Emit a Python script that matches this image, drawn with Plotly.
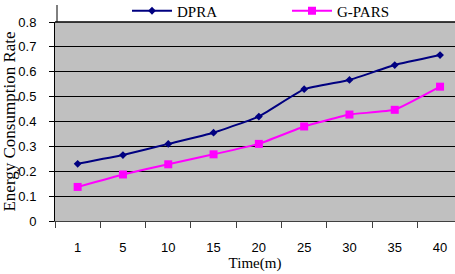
import plotly.graph_objects as go

times = ["1", "5", "10", "15", "20", "25", "30", "35", "40"]
dpra = [0.23, 0.265, 0.31, 0.355, 0.42, 0.53, 0.567, 0.627, 0.667]
gpars = [0.137, 0.187, 0.228, 0.268, 0.31, 0.38, 0.428, 0.447, 0.54]
y_ticks = [0, 0.1, 0.2, 0.3, 0.4, 0.5, 0.6, 0.7, 0.8]
y_labels = ["0", "0.1", "0.2", "0.3", "0.4", "0.5", "0.6", "0.7", "0.8"]

serif = "Liberation Serif, Times New Roman, serif"
sans = "Liberation Sans, Arial, sans-serif"

fig = go.Figure()
fig.add_trace(go.Scatter(
    x=times, y=dpra, name="DPRA", mode="lines+markers", legend="legend",
    line=dict(color="#000080", width=2, shape="spline", smoothing=0.3),
    marker=dict(symbol="diamond", size=6, color="#000080"),
))
fig.add_trace(go.Scatter(
    x=times, y=gpars, name="G-PARS", mode="lines+markers", legend="legend2",
    line=dict(color="#FF00FF", width=2, shape="spline", smoothing=0.3),
    marker=dict(symbol="square", size=8, color="#FF00FF"),
))

leg_common = dict(orientation="h", xref="container", yref="container",
                  y=1.0 - 11 / 274, xanchor="left", yanchor="middle",
                  font=dict(family=serif, size=15, color="black"),
                  bgcolor="rgba(0,0,0,0)", itemwidth=40)

fig.update_layout(
    width=455, height=274,
    margin=dict(l=55, r=0, t=22, b=53, autoexpand=False),
    paper_bgcolor="white",
    plot_bgcolor="#C0C0C0",
    showlegend=True,
    legend=dict(x=127 / 455, **leg_common),
    legend2=dict(x=287 / 455, **leg_common),
    xaxis=dict(
        type="category", range=[-0.5, 8.33],
        tickson="boundaries", ticks="outside", ticklen=6, tickcolor="#404040",
        showgrid=False, showline=True, linecolor="#404040", linewidth=1,
        tickfont=dict(family=sans, size=13, color="black"),
        ticklabelstandoff=14,
        title=dict(text="Time(m)", font=dict(family=serif, size=15, color="black"), standoff=0),
        zeroline=False,
    ),
    yaxis=dict(
        range=[0, 0.8], tickvals=y_ticks, ticktext=y_labels,
        ticks="outside", ticklen=5, tickcolor="black",
        showgrid=True, gridcolor="black", gridwidth=1,
        showline=True, linecolor="black", linewidth=1,
        tickfont=dict(family=sans, size=13, color="black"),
        ticklabelstandoff=10,
        title=dict(text="Energy Consumption Rate", font=dict(family=serif, size=17, color="black"), standoff=4),
        zeroline=False,
    ),
)

fig.add_shape(type="line", xref="paper", yref="paper",
              x0=0, x1=1, y0=1.0, y1=1.0,
              line=dict(color="black", width=1.5))
fig.add_shape(type="line", xref="paper", yref="paper",
              x0=0.005, x1=0.005, y0=1.0, y1=1.0 + 17 / 199,
              line=dict(color="black", width=1))

fig.write_html("out.html")
